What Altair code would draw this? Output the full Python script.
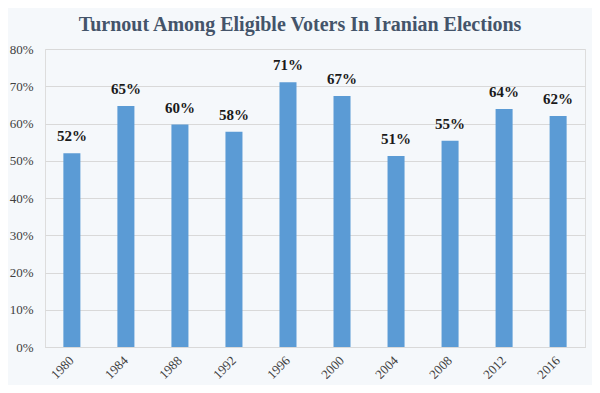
import altair as alt
import pandas as pd

years = ["1980", "1984", "1988", "1992", "1996", "2000", "2004", "2008", "2012", "2016"]
turnout = [52.0, 64.7, 59.7, 57.8, 71.1, 67.4, 51.3, 55.4, 63.9, 62.0]
labels = ["52%", "65%", "60%", "58%", "71%", "67%", "51%", "55%", "64%", "62%"]
y_ticks = [0, 10, 20, 30, 40, 50, 60, 70, 80]

df = pd.DataFrame({"year": years, "turnout": turnout, "label": labels})

FONT = "Liberation Serif"

x = alt.X("year:N", sort=years, title=None,
          scale=alt.Scale(paddingInner=0.685, paddingOuter=0.34),
          axis=alt.Axis(labelAngle=-45, labelAlign="right", labelBaseline="middle",
                        labelPadding=11, ticks=False, domain=True, domainColor="#d9d9d9",
                        labelFont=FONT, labelFontSize=13, labelColor="#404040"))

y = alt.Y("turnout:Q", title=None,
          scale=alt.Scale(domain=[0, 80], nice=False),
          axis=alt.Axis(values=y_ticks, labelExpr="datum.value + '%'", ticks=False,
                        domain=False, grid=True, gridColor="#d9d9d9", labelOverlap=False,
                        labelFont=FONT, labelFontSize=13, labelColor="#404040",
                        labelPadding=12))

base = alt.Chart(df).encode(x=x, y=y)
bars = base.mark_bar(color="#5b9bd5")
text = base.mark_text(dy=-9, baseline="bottom", font=FONT, fontSize=15,
                      fontWeight="bold", color="#1a1a1a").encode(text="label:N")

chart = (bars + text).properties(
    width=540, height=298,
    title=alt.TitleParams("Turnout Among Eligible Voters In Iranian Elections",
                          font=FONT, fontSize=20, fontWeight="bold", color="#44546a",
                          anchor="middle", dx=-15, offset=8),
    autosize=alt.AutoSizeParams(type="none"),
    padding={"left": 37, "top": 41, "right": 7, "bottom": 38},
    background="#f5f8fb",
).configure_view(stroke=None).configure(font=FONT)

chart.save("out.html", embed_options={"renderer": "svg", "actions": False})
